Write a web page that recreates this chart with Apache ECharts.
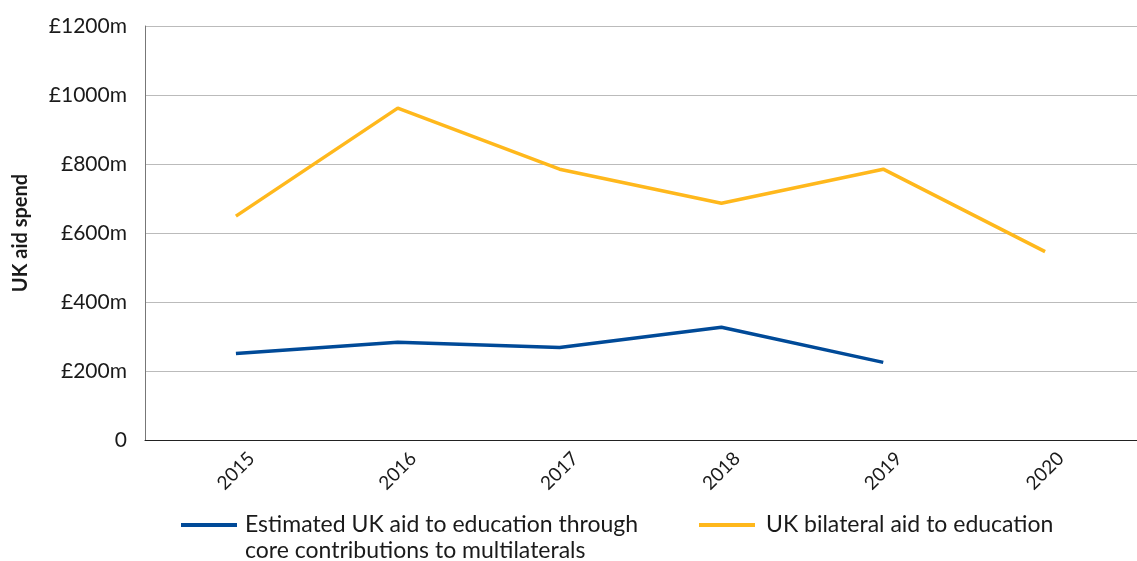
<!DOCTYPE html>
<html><head><meta charset="utf-8">
<script src="https://cdn.jsdelivr.net/npm/echarts@6/dist/echarts.min.js"></script>
<style>html,body{margin:0;padding:0;background:#fff}#c{width:1137px;height:561px}</style>
</head><body><div id="c"></div>
<script>
const years = ['2015','2016','2017','2018','2019','2020'];
const multilateral = [251, 283, 268, 327, 225, null];
const bilateral = [649, 962, 785, 686, 785, 546];
const yTicks = [0, 200, 400, 600, 800, 1000, 1200];
const seriesNames = ['Estimated UK aid to education through\ncore contributions to multilaterals', 'UK bilateral aid to education'];
const FONT = 'Lato, "Open Sans", sans-serif';
const legendText = { fontFamily: FONT, fontSize: 23, color: '#1a1a1a', lineHeight: 26 };
const chart = echarts.init(document.getElementById('c'));
chart.setOption({
  animation: false,
  grid: [
    { left: 145, right: 0, top: 26, bottom: 121 },
    { left: 155, width: 971, top: 26, bottom: 121 }
  ],
  legend: [
    { left: 176, top: 481, itemWidth: 56, itemHeight: 4, icon: 'rect',
      formatter: n => '\n' + n,
      textStyle: Object.assign({}, legendText, { padding: [0, 0, 0, 3] }),
      data: [seriesNames[0]] },
    { left: 694, top: 507, itemWidth: 56, itemHeight: 4, icon: 'rect',
      textStyle: Object.assign({}, legendText, { padding: [0, 0, 0, 6] }),
      data: [seriesNames[1]] }
  ],
  xAxis: [
    { type: 'value', gridIndex: 0, min: 0, max: 1, show: true,
      axisLine: { show: true, onZero: false, lineStyle: { color: '#222', width: 1 } },
      axisTick: { show: false }, axisLabel: { show: false }, splitLine: { show: false } },
    { type: 'category', gridIndex: 1, data: years, boundaryGap: true,
      axisLine: { show: false }, axisTick: { show: false },
      axisLabel: { rotate: 45, align: 'center', verticalAlign: 'middle',
        fontFamily: FONT, fontSize: 19, color: '#1a1a1a', margin: 31 } }
  ],
  yAxis: [
    { type: 'value', gridIndex: 0, min: 0, max: 1200, interval: 200,
      name: 'UK aid spend', nameLocation: 'middle', nameGap: 114,
      nameTextStyle: { fontFamily: FONT, fontSize: 20, fontWeight: 'bold', color: '#1a1a1a' },
      axisLine: { show: true, lineStyle: { color: '#777', width: 1 } },
      axisTick: { show: false },
      splitLine: { lineStyle: { color: '#bbb', width: 1 } },
      axisLabel: { fontFamily: FONT, fontSize: 21, color: '#1a1a1a', margin: 18,
        formatter: v => yTicks.includes(v) ? (v === 0 ? '0' : '£' + v + 'm') : '' } },
    { type: 'value', gridIndex: 1, min: 0, max: 1200, interval: 200, show: false,
      splitLine: { show: false } }
  ],
  series: [
    { name: seriesNames[0], type: 'line', xAxisIndex: 1, yAxisIndex: 1, data: multilateral,
      showSymbol: false, symbol: 'none',
      lineStyle: { color: '#004a98', width: 3.5 }, itemStyle: { color: '#004a98' } },
    { name: seriesNames[1], type: 'line', xAxisIndex: 1, yAxisIndex: 1, data: bilateral,
      showSymbol: false, symbol: 'none',
      lineStyle: { color: '#ffb81c', width: 3.5 }, itemStyle: { color: '#ffb81c' } }
  ]
});
</script></body></html>
